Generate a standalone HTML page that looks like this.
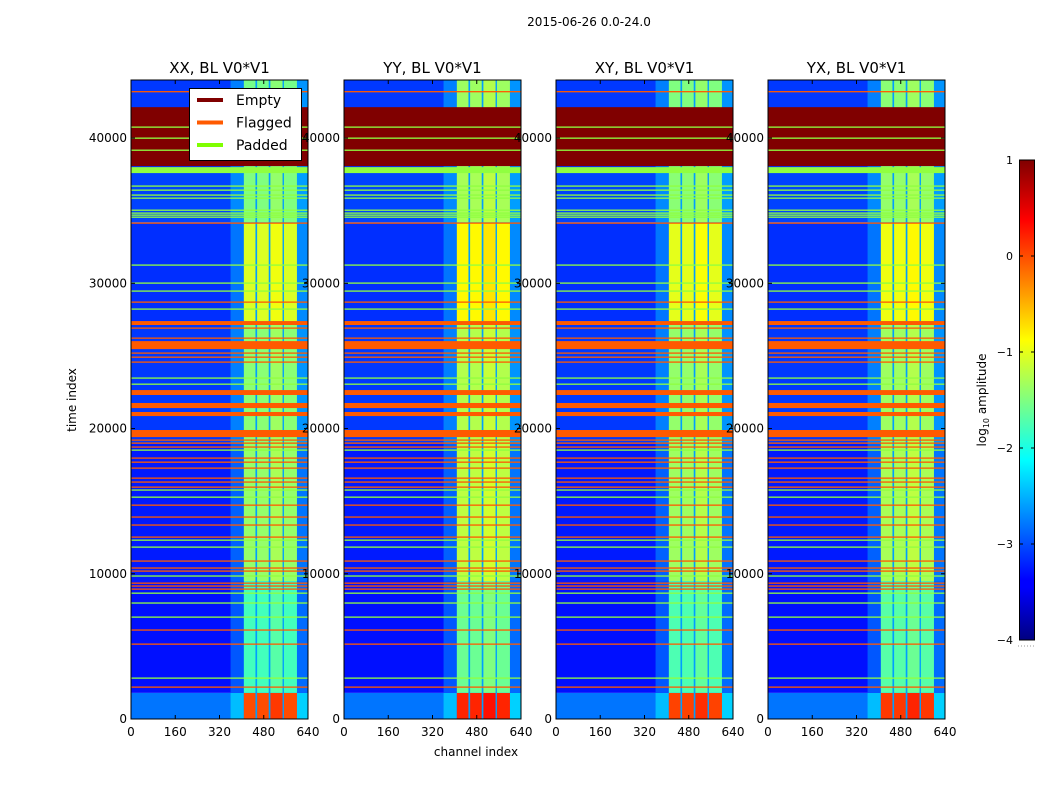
<!DOCTYPE html>
<html><head><meta charset="utf-8"><title>Waterfall</title>
<style>
html,body{margin:0;padding:0;background:#fff;}
svg{display:block;font-family:"DejaVu Sans","Liberation Sans",sans-serif;}
</style></head>
<body>
<svg id="fig" width="1050" height="800" viewBox="0 0 1050 800" xmlns="http://www.w3.org/2000/svg">
<defs>
<linearGradient id="jetgrad" x1="0" y1="1" x2="0" y2="0">
<stop offset="0" stop-color="#000080"/><stop offset="0.11" stop-color="#0000ff"/><stop offset="0.125" stop-color="#0000ff"/>
<stop offset="0.375" stop-color="#00ffff"/><stop offset="0.5" stop-color="#80ff80"/><stop offset="0.625" stop-color="#ffff00"/>
<stop offset="0.875" stop-color="#ff0000"/><stop offset="1" stop-color="#800000"/>
</linearGradient>
</defs>
<text x="589" y="26" font-size="12" text-anchor="middle">2015-06-26 0.0-24.0</text>
<g id="panels"></g>
<g id="overlay"></g>
</svg>
<script>
// ---- data ----
const panelTitles = ["XX, BL V0*V1", "YY, BL V0*V1", "XY, BL V0*V1", "YX, BL V0*V1"];
const panelStripeBoost = [0, 0.2, 0.05, 0.1];
const xTicks = [0, 160, 320, 480, 640];
const yTicks = [0, 10000, 20000, 30000, 40000];
const cbTicks = [1, 0, -1, -2, -3, -4];
// background segments (time index) with log amplitude levels
const segStart = [0, 1800, 9500, 19000, 27400, 34200, 37600];
const segEnd = [1800, 9500, 19000, 27400, 34200, 37600, 44000];
const segBg = [-2.8, -3.3, -3.25, -3.1, -3.15, -3.05, -3.1];
const segStripe = [0.0, -1.8, -1.4, -1.45, -1.05, -1.5, -1.55];
// channel stripes
const stripeStart = [408, 456, 504, 553];
const stripeEnd = [450, 498, 548, 600];
// flags
const emptyBands = [[38070, 42130]];
const flaggedBands = [[27130, 27400], [25470, 26020], [22310, 22650], [21410, 21760], [20860, 21140], [19410, 19900]];
const flaggedLines = [43200, 34150, 28710, 26920, 26230, 25200, 24920, 24580, 19210, 19000, 18730, 17970, 17690, 17280, 16590, 16320, 15970, 14730, 13910, 13360, 12530, 10880, 10400, 10190, 9360, 9160, 8950, 6130, 5160, 2200];
const paddedBands = [[37590, 38000]];
const paddedLines = [40760, 40000, 39170, 36700, 36420, 36080, 35870, 35040, 34840, 34700, 34560, 31260, 30020, 29470, 28230, 23480, 23060, 18520, 15770, 15280, 12320, 11840, 9850, 8670, 7990, 7020, 2820];

// ---- layout ----
const NS = "http://www.w3.org/2000/svg";
const panelX = [131, 344, 556, 768];
const PW = 177, PT = 80, PB = 719;
const XMAX = 640, YMAX = 44000;
const COL_EMPTY = "#800000", COL_FLAG = "#ff5a00", COL_PAD = "#90ff40";

function jet(val) {
  let v = Math.max(0, Math.min(1, (val + 4) / 5));
  const c = t => Math.round(255 * Math.max(0, Math.min(1, t)));
  return `rgb(${c(1.5 - Math.abs(4 * v - 3))},${c(1.5 - Math.abs(4 * v - 2))},${c(1.5 - Math.abs(4 * v - 1))})`;
}
function mk(tag, attrs, parent) {
  const el = document.createElementNS(NS, tag);
  for (const k in attrs) el.setAttribute(k, attrs[k]);
  parent.appendChild(el);
  return el;
}
const panelsG = document.getElementById("panels");
const overlay = document.getElementById("overlay");

panelX.forEach((x0, p) => {
  const xs = ch => x0 + ch / XMAX * PW;
  const ys = t => PB - t / YMAX * (PB - PT);
  const g = mk("g", {}, panelsG);
  
  
  function band(c0, c1, t0, t1, fill, name, minH) {
    let y0 = ys(t1), y1 = ys(t0);
    let h = Math.max(y1 - y0, minH || 0);
    const r = mk("rect", { x: xs(c0), y: y0, width: xs(c1) - xs(c0), height: h, fill: fill }, g);
    
    
    return r;
  }
  for (let i = 0; i < segStart.length; i++) {
    band(0, XMAX, segStart[i], segEnd[i], jet(segBg[i]), 'background-cell');
    band(360, stripeStart[0], segStart[i], segEnd[i], jet(segBg[i] + 0.35), 'shoulder-cell');
    band(stripeStart[0], stripeEnd[stripeEnd.length - 1], segStart[i], segEnd[i], jet(-2.6), 'gap-cell');
    band(stripeEnd[stripeEnd.length - 1], XMAX, segStart[i], segEnd[i], jet(segBg[i] + 0.45), 'edge-cell');
    for (let s = 0; s < stripeStart.length; s++) {
      band(stripeStart[s], stripeEnd[s], segStart[i], segEnd[i], jet(segStripe[i] + panelStripeBoost[p] + (s === 2 ? 0.1 : 0)), 'stripe-cell');
    }
  }
  emptyBands.forEach(b => band(0, XMAX, b[0], b[1], COL_EMPTY, 'empty-band'));
  flaggedBands.forEach(b => band(0, XMAX, b[0], b[1], COL_FLAG, 'flagged-band'));
  paddedBands.forEach(b => band(0, XMAX, b[0], b[1], COL_PAD, 'padded-band'));
  flaggedLines.forEach(t => band(0, XMAX, t - 40, t + 40, COL_FLAG, 'flagged-line', 1.3));
  paddedLines.forEach(t => band(0, XMAX, t - 40, t + 40, COL_PAD, 'padded-line', 1.3));
  const fr = mk("rect", { x: x0, y: PT, width: PW, height: PB - PT, fill: "none", stroke: "#000", "stroke-width": 1 }, g);
  
  
  const tt = mk("text", { x: x0 + PW / 2, y: 73, "font-size": 15, "text-anchor": "middle" }, overlay);
  tt.textContent = panelTitles[p];
  
  
  xTicks.forEach(v => {
    const x = xs(v);
    mk("line", { x1: x, x2: x, y1: PB, y2: PB - 4, stroke: "#000" }, overlay);
    mk("line", { x1: x, x2: x, y1: PT, y2: PT + 4, stroke: "#000" }, overlay);
    const t = mk("text", { x: x, y: 736, "font-size": 12, "text-anchor": "middle" }, overlay);
    t.textContent = v;
    
    
  });
  yTicks.forEach(v => {
    const y = ys(v);
    mk("line", { x1: x0, x2: x0 + 4, y1: y, y2: y, stroke: "#000" }, overlay);
    mk("line", { x1: x0 + PW, x2: x0 + PW - 4, y1: y, y2: y, stroke: "#000" }, overlay);
    const t = mk("text", { x: x0 - 4, y: y + 4, "font-size": 12, "text-anchor": "end" }, overlay);
    t.textContent = v;
    
    
  });
});

// axis labels
let yl = mk("text", { x: 76, y: 400, "font-size": 12, "text-anchor": "middle", transform: "rotate(-90 76 400)" }, overlay);
yl.textContent = "time index";


let xl = mk("text", { x: 476, y: 756, "font-size": 12, "text-anchor": "middle" }, overlay);
xl.textContent = "channel index";



// legend
const lg = mk("g", {}, overlay);


mk("rect", { x: 189.5, y: 88.5, width: 112, height: 72, fill: "#fff", stroke: "#000" }, lg);
[["Empty", COL_EMPTY], ["Flagged", COL_FLAG], ["Padded", "#7fff00"]].forEach((e, i) => {
  const y = 100 + i * 22.5;
  const ln = mk("line", { x1: 197, x2: 223, y1: y, y2: y, stroke: e[1], "stroke-width": 4 }, lg);
  
  
  const t = mk("text", { x: 236, y: y + 5, "font-size": 14 }, lg);
  t.textContent = e[0];
  
  
});

// colorbar
const cb = mk("g", {}, overlay);


const CBT = 160, CBB = 640;
mk("rect", { x: 1019.5, y: CBT, width: 15, height: CBB - CBT, fill: "url(#jetgrad)", stroke: "#000" }, cb);
cbTicks.forEach(v => {
  const y = CBB - (v + 4) / 5 * (CBB - CBT);
  mk("line", { x1: 1019.5, x2: 1023, y1: y, y2: y, stroke: "#000" }, cb);
  mk("line", { x1: 1031, x2: 1034.5, y1: y, y2: y, stroke: "#000" }, cb);
  const t = mk("text", { x: 1013, y: y + 4, "font-size": 11, "text-anchor": "end" }, cb);
  t.textContent = v < 0 ? "\u2212" + Math.abs(v) : String(v);
  
  
});
mk("line", { x1: 1018, x2: 1035, y1: 646, y2: 646, stroke: "#999", "stroke-dasharray": "1,2" }, cb);
const cl = mk("text", { x: 986, y: 400, "font-size": 12, "text-anchor": "middle", transform: "rotate(-90 986 400)" }, cb);
cl.innerHTML = 'log<tspan font-size="8" dy="3">10</tspan><tspan dy="-3"> amplitude</tspan>';


</script>
</body></html>
